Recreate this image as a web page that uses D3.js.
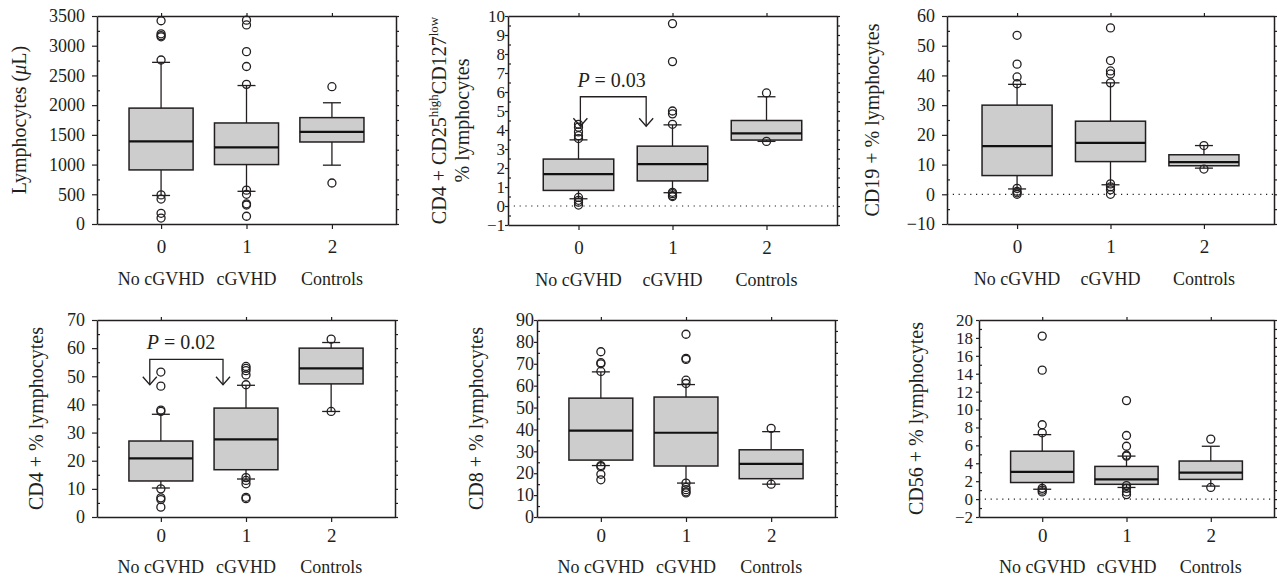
<!DOCTYPE html>
<html>
<head>
<meta charset="utf-8">
<script src="https://cdn.jsdelivr.net/npm/d3@7"></script>
<style>
  body { margin: 0; background: #fff; }
  svg text { font-family: "Liberation Serif", "DejaVu Serif", "Noto Serif", serif !important; fill: #231f20; }
</style>
</head>
<body>
<svg width="1277" height="577"></svg>
<script>
const groupCodes = [0, 1, 2];
const groupNames = ["No cGVHD", "cGVHD", "Controls"];

// each group: [low whisker, q1, median, q3, high whisker]
const lymphStats = [[480, 910, 1390, 1950, 2720], [550, 1000, 1290, 1700, 2330], [990, 1380, 1550, 1790, 2040]];
const lymphOutliers = [[3420, 3200, 3170, 3150, 2760, 490, 420, 180, 100], [3430, 3350, 2900, 2650, 2350, 570, 500, 340, 320, 130], [2310, 690]];
const lymphTicks = [0, 500, 1000, 1500, 2000, 2500, 3000, 3500];

const tregStats = [[0.38, 0.82, 1.68, 2.47, 3.48], [0.7, 1.32, 2.2, 3.15, 4.27], [3.4, 3.47, 3.82, 4.5, 5.75]];
const tregOutliers = [[4.3, 4.15, 3.9, 3.7, 3.55, 0.45, 0.3, 0.2, 0.05], [9.6, 7.6, 5.0, 4.85, 4.3, 0.72, 0.65, 0.55, 0.5], [5.95, 3.4]];
const tregTicks = [-1, 0, 1, 2, 3, 4, 5, 6, 7, 8, 9, 10];

const cd19Stats = [[1.8, 6.3, 16.2, 30, 37], [3.2, 11, 17.3, 24.6, 37.5], [8.8, 9.6, 10.8, 13.3, 16.4]];
const cd19Outliers = [[53.5, 43.8, 39.5, 37.2, 2, 1, 0.5, 0], [56, 45, 41.5, 40.5, 37.5, 3.5, 2.5, 1.5, 0], [16.4, 8.5]];
const cd19Ticks = [-10, 0, 10, 20, 30, 40, 50, 60];

const cd4Stats = [[10.3, 12.8, 20.8, 27, 36.5], [13.5, 16.8, 27.6, 38.7, 46.8], [37.5, 47.3, 52.8, 60, 62]];
const cd4Outliers = [[51.5, 46.5, 38, 37.5, 10, 6.8, 6.2, 3.5], [53.5, 52.8, 52, 50.5, 47, 14, 13, 11.8, 7, 6.5], [63.2, 37.5]];
const cd4Ticks = [0, 10, 20, 30, 40, 50, 60, 70];

const cd8Stats = [[23.5, 26, 39.5, 54.3, 66.3], [15.5, 23.3, 38.5, 54.8, 60.5], [15, 17.5, 24.3, 30.7, 39]];
const cd8Outliers = [[75.5, 70.5, 70, 66.5, 23.5, 23, 19.5, 17], [83.5, 72.5, 72, 62.5, 61, 15.5, 13.5, 12.5, 11.5, 11], [40.5, 15]];
const cd8Ticks = [0, 10, 20, 30, 40, 50, 60, 70, 80, 90];

const cd56Stats = [[1.1, 1.85, 3.05, 5.35, 7.2], [1.3, 1.65, 2.2, 3.65, 4.8], [1.45, 2.2, 2.95, 4.25, 5.9]];
const cd56Outliers = [[18.2, 14.4, 8.3, 7.4, 1.2, 1.0, 0.8], [11, 7.1, 5.9, 4.9, 4.8, 1.5, 1.2, 0.8, 0.5], [6.7, 1.3]];
const cd56Ticks = [-2, 0, 2, 4, 6, 8, 10, 12, 14, 16, 18, 20];

// p-value brackets: [x start, x end] in group units, [bracket top, arrow tip] in y units
const tregP = { text: "0.03", xs: [0.02, 0.72], ys: [5.75, 4.2] };
const cd4P = { text: "0.02", xs: [-0.13, 0.73], ys: [56, 47] };

const ink = '#231f20';
const serif = '"Liberation Serif", "DejaVu Serif", "Noto Serif", serif';
const svg = d3.select('svg');

const panels = [
  { stats: lymphStats, outliers: lymphOutliers, ticks: lymphTicks, minor: 250,
    left: 97, right: 396, top: 16, bottom: 224, tickLen: 5, pad: 7, tickFont: 18,
    label: [['Lymphocytes (', '', 'μ', 'L)']], labelX: [26], numGap: 15.5, nameGap: 61 },
  { stats: tregStats, outliers: tregOutliers, ticks: tregTicks, minor: 0.5,
    left: 508, right: 837, top: 16, bottom: 225, tickLen: 3, pad: 0, tickFont: 17, zero: true,
    label: ['sup', '% lymphocytes'], labelX: [446, 469], numGap: 15.5, nameGap: 61, p: tregP },
  { stats: cd19Stats, outliers: cd19Outliers, ticks: cd19Ticks, minor: 5,
    left: 947, right: 1274, top: 16, bottom: 224, tickLen: 5, pad: 7, tickFont: 18, zero: true,
    label: ['CD19 + % lymphocytes'], labelX: [879], numGap: 15.5, nameGap: 61 },
  { stats: cd4Stats, outliers: cd4Outliers, ticks: cd4Ticks, minor: 5,
    left: 97, right: 395, top: 320, bottom: 517, tickLen: 5, pad: 7, tickFont: 18,
    label: ['CD4 + % lymphocytes'], labelX: [43], numGap: 11.5, nameGap: 56, p: cd4P },
  { stats: cd8Stats, outliers: cd8Outliers, ticks: cd8Ticks, minor: 5,
    left: 537, right: 835, top: 320, bottom: 517, tickLen: 3, pad: 0, tickFont: 18,
    label: ['CD8 + % lymphocytes'], labelX: [483], numGap: 11.5, nameGap: 56 },
  { stats: cd56Stats, outliers: cd56Outliers, ticks: cd56Ticks, minor: 1,
    left: 979, right: 1274, top: 320, bottom: 517, tickLen: 3, pad: 3, tickFont: 17, zero: true,
    label: ['CD56 + % lymphocytes'], labelX: [923], numGap: 11.5, nameGap: 56 }
];

function styleAxis(sel) {
  sel.attr('font-family', serif);
  sel.select('.domain').attr('stroke', ink).attr('stroke-width', 1.5);
  sel.selectAll('.tick line').attr('stroke', ink).attr('stroke-width', 1.2);
  sel.selectAll('.tick text').attr('fill', ink).attr('font-family', serif);
}

function drawPanel(p) {
  const g = svg.append('g').attr('font-family', serif);
  const x = d3.scaleLinear().domain([-0.75, 2.75]).range([p.left, p.right]);
  const yDom = d3.extent(p.ticks);
  const y = d3.scaleLinear().domain(yDom).range([p.bottom, p.top]);
  const minorTicks = d3.range(yDom[0], yDom[1] + p.minor / 2, p.minor).filter(v => !p.ticks.includes(v));
  const allTicks = d3.range(yDom[0], yDom[1] + p.minor / 2, p.minor);
  const halfBox = (x(0.375) - x(0));

  if (p.zero) {
    g.append('line')
      .attr('x1', p.left).attr('x2', p.right)
      .attr('y1', y(0)).attr('y2', y(0))
      .attr('stroke', ink).attr('stroke-width', 1.2)
      .attr('stroke-dasharray', '1.2,4.6');
  }

  // top and right frame with ticks
  g.append('g').attr('transform', `translate(0,${p.top})`)
    .call(d3.axisTop(x).tickValues(groupCodes).tickSize(3).tickSizeOuter(0).tickFormat(''))
    .call(styleAxis);
  g.append('g').attr('transform', `translate(${p.right},0)`)
    .call(d3.axisRight(y).tickValues(allTicks).tickSize(3).tickSizeOuter(0).tickFormat(''))
    .call(styleAxis);

  // boxes
  const box = g.selectAll('.box').data(p.stats).enter().append('g');
  box.append('line')
    .attr('x1', (d, i) => x(i)).attr('x2', (d, i) => x(i))
    .attr('y1', d => y(d[0])).attr('y2', d => y(d[4]))
    .attr('stroke', ink).attr('stroke-width', 1.3);
  box.append('rect')
    .attr('x', (d, i) => x(i) - halfBox)
    .attr('width', halfBox * 2)
    .attr('y', d => y(d[3]))
    .attr('height', d => y(d[1]) - y(d[3]))
    .attr('fill', '#cdcdcd').attr('stroke', ink).attr('stroke-width', 1.5);
  box.append('line')
    .attr('x1', (d, i) => x(i) - halfBox).attr('x2', (d, i) => x(i) + halfBox)
    .attr('y1', d => y(d[2])).attr('y2', d => y(d[2]))
    .attr('stroke', '#111').attr('stroke-width', 2.2);
  [0, 4].forEach(k => {
    box.append('line')
      .attr('x1', (d, i) => x(i) - 9).attr('x2', (d, i) => x(i) + 9)
      .attr('y1', d => y(d[k])).attr('y2', d => y(d[k]))
      .attr('stroke', ink).attr('stroke-width', 1.3);
  });

  // outliers
  p.outliers.forEach((vals, i) => {
    g.selectAll(null).data(vals).enter().append('circle')
      .attr('cx', x(i)).attr('cy', d => y(d)).attr('r', 4)
      .attr('fill', 'none').attr('stroke', ink).attr('stroke-width', 1.3);
  });

  // left axis
  g.append('g').attr('transform', `translate(${p.left},0)`)
    .call(d3.axisLeft(y).tickValues(p.ticks).tickSize(p.tickLen).tickPadding(p.pad).tickSizeOuter(0).tickFormat(d3.format('d')))
    .call(styleAxis)
    .call(a => a.selectAll('text').attr('font-size', p.tickFont));
  g.append('g').attr('transform', `translate(${p.left},0)`)
    .call(d3.axisLeft(y).tickValues(minorTicks).tickSize(-3).tickSizeOuter(0).tickFormat(''))
    .call(styleAxis)
    .call(a => a.select('.domain').remove());

  // bottom axis
  g.append('g').attr('transform', `translate(0,${p.bottom})`)
    .call(d3.axisBottom(x).tickValues(groupCodes).tickSize(5).tickPadding(p.numGap - 5).tickSizeOuter(0).tickFormat(d3.format('d')))
    .call(styleAxis)
    .call(a => a.selectAll('text').attr('font-size', 19));

  g.selectAll('.name').data(groupNames).enter().append('text')
    .attr('x', (d, i) => x(i)).attr('y', p.bottom + p.nameGap)
    .attr('text-anchor', 'middle').attr('font-size', 18)
    .text(d => d);

  // y label
  const cy = (p.top + p.bottom) / 2;
  p.label.forEach((line, li) => {
    const t = g.append('text')
      .attr('transform', `translate(${p.labelX[li]},${cy}) rotate(-90)`)
      .attr('text-anchor', 'middle').attr('font-size', 20);
    if (line === 'sup') {
      t.append('tspan').text('CD4 + CD25');
      t.append('tspan').attr('font-size', 13).attr('dy', -8).text('high');
      t.append('tspan').attr('dy', 8).text('CD127');
      t.append('tspan').attr('font-size', 13).attr('dy', -8).text('low');
    } else if (Array.isArray(line)) {
      t.append('tspan').text(line[0]);
      t.append('tspan').attr('font-style', 'italic').text(line[2]);
      t.append('tspan').text(line[3]);
    } else {
      t.text(line);
    }
  });

  // p-value bracket
  if (p.p) {
    const a = p.p;
    const x0 = x(a.xs[0]), x1 = x(a.xs[1]);
    const yTop = y(a.ys[0]), yTip = y(a.ys[1]);
    g.append('path')
      .attr('d', `M${x0},${yTip}V${yTop}H${x1}V${yTip}`)
      .attr('fill', 'none').attr('stroke', ink).attr('stroke-width', 1.3);
    [x0, x1].forEach(xx => {
      g.append('path')
        .attr('d', `M${xx - 7},${yTip - 8}L${xx},${yTip}L${xx + 7},${yTip - 8}`)
        .attr('fill', 'none').attr('stroke', ink).attr('stroke-width', 1.3);
    });
    const pt = g.append('text')
      .attr('x', x0 - 3).attr('y', yTop - 10).attr('font-size', 20);
    pt.append('tspan').attr('font-style', 'italic').text('P');
    pt.append('tspan').text(' = ' + a.text);
  }
}

panels.forEach(drawPanel);
</script>
</body>
</html>
